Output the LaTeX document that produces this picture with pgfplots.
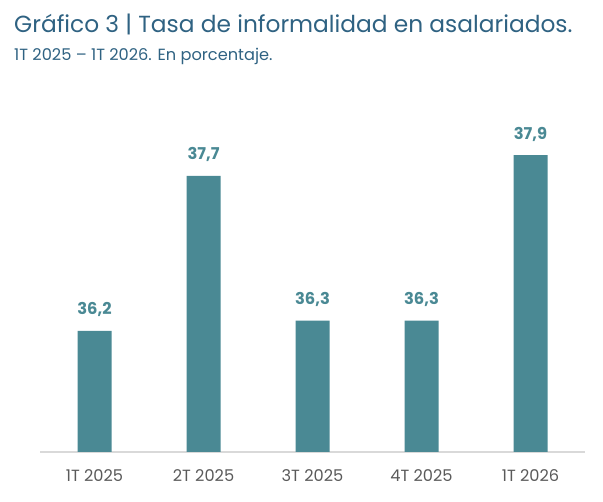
\documentclass[border=0pt]{standalone}
\usepackage{fontspec}
\setmainfont{Poppins}
\usepackage{pgfplots}
\pgfplotsset{compat=1.18}
\definecolor{barc}{HTML}{4A8994}
\definecolor{titc}{HTML}{2F6282}
\definecolor{tickc}{HTML}{5A5A5A}
\definecolor{axc}{HTML}{D9D9D9}
\begin{document}
\begin{tikzpicture}[x=1pt,y=1pt]
\path[use as bounding box] (0,0) rectangle (603,502);
\node[anchor=base west, text=titc, font=\fontsize{23.3}{28}\selectfont, inner sep=0] at (14,469.5) {Gráfico 3 | Tasa de informalidad en asalariados.};
\node[anchor=base west, text=titc, font=\fontsize{16.2}{19}\selectfont, inner sep=0] at (14,441) {1T 2025 – 1T 2026. En porcentaje.};
\begin{axis}[
  at={(40pt,50pt)}, anchor=south west,
  scale only axis, width=545pt, height=362pt,
  xmin=-0.5, xmax=4.5, ymin=35.03, ymax=38.53,
  ybar, bar width=34pt,
  axis x line=bottom, axis y line=none,
  x axis line style={draw=axc, line width=1.2pt, -},
  xtick={0,1,2,3,4},
  xticklabels={1T 2025,2T 2025,3T 2025,4T 2025,1T 2026},
  major tick length=0pt,
  xticklabel style={text=tickc, font=\fontsize{16.2}{18}\selectfont, anchor=base, yshift=-29.5pt, inner sep=0pt},
  nodes near coords={\pgfmathprintnumber[use comma,fixed,fixed zerofill,precision=1,assume math mode=true]{\pgfplotspointmeta}},
  every node near coord/.append style={font=\fontsize{16.3}{18}\selectfont\bfseries, text=barc, anchor=base, inner sep=0pt, yshift=16pt},
  clip=false,
]
\addplot[fill=barc, draw=none] coordinates {(0,36.2) (1,37.7) (2,36.3) (3,36.3) (4,37.9)};
\end{axis}
\end{tikzpicture}
\end{document}
